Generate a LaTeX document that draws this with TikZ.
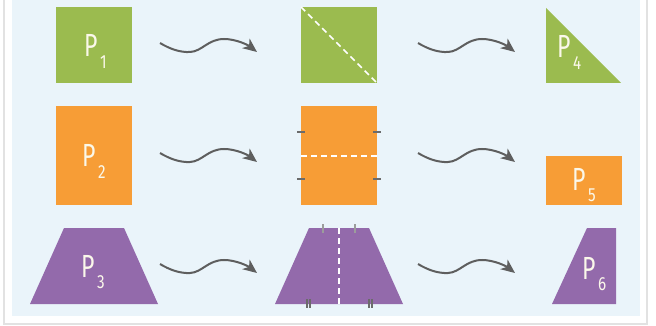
\documentclass[tikz,border=0pt]{standalone}
\usepackage{fontspec}
\setmainfont{Fira Sans}
\usetikzlibrary{arrows.meta}
\definecolor{bgblue}{HTML}{EAF4FA}
\definecolor{pgreen}{HTML}{9BBB4F}
\definecolor{porange}{HTML}{F79D36}
\definecolor{ppurple}{HTML}{936AAB}
\definecolor{arrowgrey}{HTML}{5E5E5E}
\definecolor{labelwhite}{HTML}{FBF8EA}
\definecolor{tickdark}{HTML}{6B6B6B}
\definecolor{ticklight}{HTML}{9C9C9C}
\definecolor{framegrey}{HTML}{E2E2E2}
\newcommand{\plab}[1]{\scalebox{0.72}[1]{P}\kern2.5pt\raisebox{-11.5pt}{\fontsize{19}{19}\selectfont\scalebox{0.8}[1]{#1}}}
\begin{document}
\begin{tikzpicture}[x=1pt,y=-1pt,
  wave/.style={draw=arrowgrey, line width=2pt, -{Stealth[length=14pt,width=12pt,inset=4pt]}},
  plabel/.style={text=labelwhite, inner sep=0pt, anchor=base west, font=\fontsize{32}{32}\selectfont},
  dashline/.style={draw=white, line width=1.6pt, dash pattern=on 6pt off 4pt},
  tickd/.style={draw=tickdark, line width=1.8pt},
  tickl/.style={draw=ticklight, line width=1.6pt}]
\useasboundingbox (0,0) rectangle (656,326);
\fill[white] (0,0) rectangle (656,326);
\draw[framegrey, line width=2pt] (4,-5) -- (4,324) -- (647,324) -- (647,-5);
\fill[bgblue] (12,0) rectangle (640,316);

% row 1
\fill[pgreen] (56,7) rectangle (132,83);
\node[plabel] (p1) at (84,57) {\plab{1}};
\fill[pgreen] (301,7) rectangle (377,83);
\draw[dashline] (301,7) -- (377,83);
\fill[pgreen] (546,8) -- (546,83) -- (621,83) -- cycle;
\node[plabel] (p4) at (557,58) {\plab{4}};

% row 2
\fill[porange] (56,106) rectangle (132,205);
\node[plabel] (p2) at (82,167) {\plab{2}};
\fill[porange] (301,106) rectangle (377,205);
\draw[dashline] (301,156) -- (377,156);
\draw[tickd] (297,132) -- (305,132);
\draw[tickd] (373,132) -- (381,132);
\draw[tickd] (297,179) -- (305,179);
\draw[tickd] (373,179) -- (381,179);
\fill[porange] (546,156) rectangle (622,205);
\node[plabel] (p5) at (572,190) {\plab{5}};

% row 3
\fill[ppurple] (30,304) -- (64,228) -- (124,228) -- (158,304) -- cycle;
\node[plabel] (p3) at (81,277) {\plab{3}};
\fill[ppurple] (275,304) -- (309,228) -- (369,228) -- (403,304) -- cycle;
\draw[dashline] (339,228) -- (339,304);
\draw[tickl] (323,224) -- (323,233);
\draw[tickl] (355,224) -- (355,233);
\draw[tickd] (307.3,299) -- (307.3,308);
\draw[tickd] (310.3,299) -- (310.3,308);
\draw[tickd] (368.7,299) -- (368.7,308);
\draw[tickd] (371.7,299) -- (371.7,308);
\fill[ppurple] (552,304) -- (587,228) -- (616,228) -- (616,304) -- cycle;
\node[plabel] (p6) at (582,279) {\plab{6}};

% wave arrows
\foreach \sx/\sy/\nm in {160/43/a, 418/43/b, 160/153/c, 418/153/d, 160/264/e, 418/264/f}{
  \coordinate (w\nm s) at (\sx,\sy);
  \coordinate (w\nm e) at (\sx+97,\sy+9);
  \draw[wave] (w\nm s) .. controls +(10,6) and +(-10,0.5) .. ++(30,9)
     .. controls +(12,-0.5) and +(-16,0) .. ++(34,-13)
     .. controls +(12,0) and +(-9,-7) .. (w\nm e);
}
\end{tikzpicture}
\end{document}
